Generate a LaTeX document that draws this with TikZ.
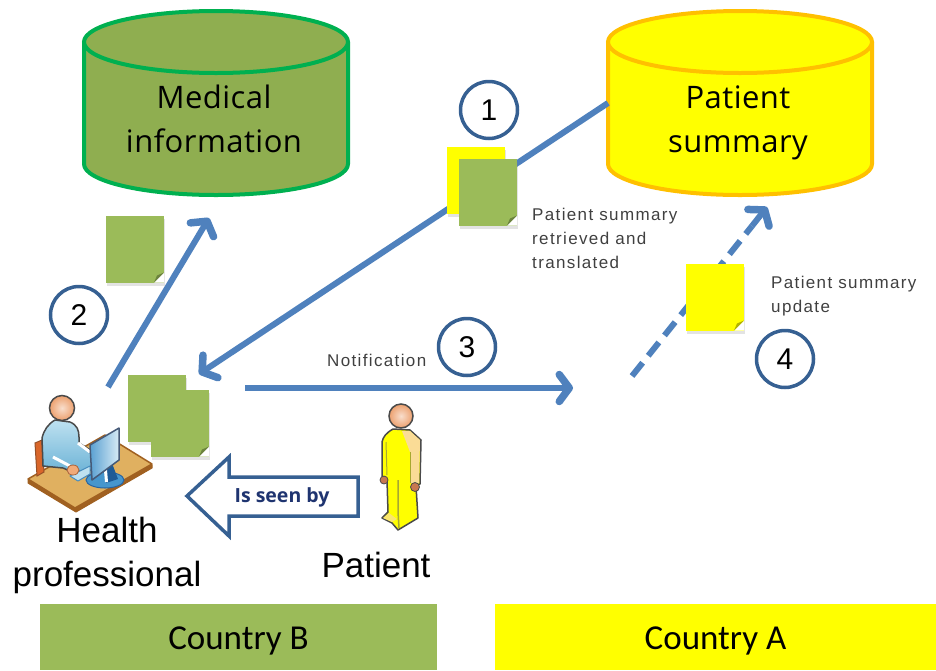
\documentclass[tikz,border=0pt]{standalone}
\usepackage{fontspec}
\setmainfont{Liberation Sans}
\newfontfamily\dbfont[LetterSpace=1.5]{Open Sans}
\newfontfamily\smfont[LetterSpace=8]{Liberation Sans}
\newfontfamily\calfont{Carlito}
\newfontfamily\boldfont{Open Sans}
\usetikzlibrary{arrows.meta,shadows}
\definecolor{sunny}{HTML}{FFFF00}
\definecolor{notegreen}{HTML}{9BBB59}
\definecolor{dbgreen}{HTML}{8FAE50}
\definecolor{dbedge}{HTML}{00B050}
\definecolor{amber}{HTML}{FFC000}
\definecolor{flow}{HTML}{4F81BD}
\definecolor{ring}{HTML}{366092}
\definecolor{navy}{HTML}{1F3470}
\definecolor{smallgray}{HTML}{404040}
\definecolor{skinedge}{HTML}{4A4A4A}
\definecolor{skin}{HTML}{ECA06E}
\definecolor{desktop}{HTML}{E0B060}
\definecolor{deskedge}{HTML}{A06020}
\definecolor{chair}{HTML}{D9662A}
\definecolor{chairedge}{HTML}{965028}
\definecolor{shirtlight}{HTML}{BEE1F0}
\definecolor{shirtdark}{HTML}{6EB4D7}
\definecolor{keyedge}{HTML}{468CBE}
\definecolor{handfill}{HTML}{F0AA78}
\definecolor{handedge}{HTML}{AA643C}
\definecolor{basefill}{HTML}{4696CD}
\definecolor{baseedge}{HTML}{2864A0}
\definecolor{standfill}{HTML}{1E5A96}
\definecolor{screenleft}{HTML}{5AA0D2}
\definecolor{screenright}{HTML}{D7EBF5}
\definecolor{screenedge}{HTML}{465A78}
\definecolor{sash}{HTML}{FADC96}
\definecolor{legline}{HTML}{A8A830}
\definecolor{footlight}{HTML}{FAE66E}
\definecolor{palm}{HTML}{C87850}
\tikzset{
  notebox/.style={rectangle,inner sep=0pt,minimum width=58pt,minimum height=67pt,fill=#1,
    drop shadow={shadow xshift=1pt,shadow yshift=-3pt,opacity=.22},
    path picture={
      \fill[white] ([xshift=-10pt]path picture bounding box.south east) -- ([yshift=10pt]path picture bounding box.south east) -- (path picture bounding box.south east) -- cycle;
      \fill[#1!70!black] ([xshift=-10pt]path picture bounding box.south east) -- ([yshift=10pt]path picture bounding box.south east) -- ([xshift=-7pt,yshift=7pt]path picture bounding box.south east) -- cycle;
    }},
  flowline/.style={draw=flow,line width=6pt},
  flowtip/.style={draw=flow,line width=6pt,-{Straight Barb[length=10pt,width=27pt,line width=7.5pt,round]}},
  numring/.style={circle,draw=ring,line width=3.5pt,fill=white,minimum size=57pt,inner sep=0pt,font=\fontsize{30}{30}\selectfont},
  dblabel/.style={align=center,inner sep=0pt,font=\dbfont\fontsize{31}{44}\selectfont},
  biglabel/.style={align=center,inner sep=0pt,font=\fontsize{35}{44}\selectfont},
  smalllabel/.style={align=left,inner sep=0pt,text=smallgray,font=\smfont\fontsize{17}{24}\selectfont},
  countrybar/.style={rectangle,inner sep=0pt,minimum height=66pt,font=\calfont\fontsize{35}{35}\selectfont},
  skinball/.style={shade,inner color=skin!35!white,outer color=skin,draw=skinedge,line width=1.5pt},
}
\newcommand{\dbshape}[4]{% xshift, fill, edge
  \begin{scope}[xshift=#1pt]
    \path[fill=#2,draw=#3,line width=#4,line join=round]
      (84,42) -- (84,164) .. controls (84,181) and (143,195) .. (216,195)
      .. controls (289,195) and (348,181) .. (348,164) -- (348,42) -- cycle;
    \path[fill=#2,draw=#3,line width=#4] (216,42) ellipse [x radius=132,y radius=31];
  \end{scope}}
\newcommand{\barlabel}[1]{\smash{\raisebox{-12pt}{#1}}}
\begin{document}
\begin{tikzpicture}[x=1pt,y=-1pt]
\useasboundingbox (0,0) rectangle (936,670);
% databases
\dbshape{0}{dbgreen}{dbedge}{4pt}
\dbshape{524}{sunny}{amber}{4pt}
\node[dblabel] (meddb) at (214,118.5) {Medical\\information};
\node[dblabel] (sumdb) at (738,122.5) {Patient\\summary};
% connector end points
\coordinate (sumport) at (608,103);
\coordinate (docstip) at (199,374);
\coordinate (hpout) at (108,387);
\coordinate (medport) at (209,218);
\coordinate (notifstart) at (245,388);
\coordinate (notifend) at (573,388);
\coordinate (updstart) at (632,376);
\coordinate (updlast) at (752,226);
\coordinate (sumin) at (767,207);
\draw[flowtip] (sumport) -- (docstip);
\draw[flowtip] (hpout) -- (medport);
\draw[flowtip] (notifstart) -- (notifend);
\draw[flowline,dash pattern=on 17pt off 9pt] (updstart) -- (updlast);
\draw[flowtip] (updlast) -- (sumin);
% notes
\node[notebox=notegreen] (note2) at (135,249) {};
\node[notebox=sunny] (note1y) at (476,180) {};
\node[notebox=notegreen] (note1g) at (488,192) {};
\node[notebox=sunny] (note4) at (715,297) {};
\node[notebox=notegreen] (docA) at (157,408) {};
\node[notebox=notegreen] (docB) at (180,423) {};
% numbered rings
\node[numring] (n1) at (489,110) {1};
\node[numring] (n2) at (79,315) {2};
\node[numring] (n3) at (467,347) {3};
\node[numring] (n4) at (785,359) {4};
% small labels
\node[smalllabel,anchor=north west] (lab1) at (532,208) {Patient summary\\retrieved and\\translated};
\node[smalllabel,anchor=north west] (lab4) at (771,276) {Patient summary\\update};
\node[smalllabel,anchor=west] (labn) at (327,360) {Notification};
% health professional icon
\path[fill=deskedge,draw=deskedge,line width=1pt,line join=round]
  (28,480) -- (75,508) -- (152,465) -- (152,468) -- (76,512) -- (28,483) -- cycle;
\path[fill=desktop,draw=deskedge,line width=1.5pt,line join=round]
  (28,479) -- (105,435) -- (152,464) -- (75,508) -- cycle;
\path[fill=chair,draw=chairedge,line width=1pt]
  (35,443) -- (42,440) -- (44,472) -- (37,476) -- cycle;
\path[top color=shirtlight,bottom color=shirtdark,draw=skinedge,line width=1.5pt,line join=round]
  (42,438) .. controls (44,430) and (48,424) .. (55,420) -- (70,422)
  .. controls (77,425) and (79,430) .. (79,437) -- (79,443) -- (92,451) -- (92,470) -- (72,472) -- (63,468) -- (43,466) -- cycle;
\draw[white,line width=3pt] (53,457) -- (70,466);
\draw[white,line width=3pt] (78,443) -- (90,452);
\path[fill=shirtlight,draw=keyedge,line width=1pt,line join=round]
  (70,476) -- (90,466) -- (90,474) -- (78,481) -- cycle;
\path[fill=handfill,draw=handedge,line width=.8pt] (73,470) ellipse [x radius=6,y radius=5];
\path[fill=basefill,draw=baseedge,line width=1pt] (105,480) ellipse [x radius=19,y radius=8];
\path[fill=standfill] (105,458) -- (110,458) -- (118,479) -- (106,483) -- cycle;
\path[fill=white] (103,459) -- (106,458) -- (108,482) -- (105,482) -- cycle;
\path[left color=screenleft,right color=screenright,draw=screenedge,line width=1.5pt,line join=round]
  (90,445) -- (119,428) -- (119,460) -- (92,480) -- cycle;
\path[skinball] (62,408) circle [radius=12.5];
% patient icon
\path[fill=sunny,draw=skinedge,line width=1.5pt,line join=round]
  (382,442) .. controls (383,437) and (386,433) .. (393,429) -- (410,430)
  -- (421,440) -- (420,484) -- (416,486) -- (418,518) -- (398,530) -- (392,523) -- (382,518) -- (388,512) -- (387,480) -- (382,476) -- cycle;
\path[fill=sash]
  (402,431) -- (410,431) -- (420,440) -- (419,483) -- (411,483) -- (410,452) -- cycle;
\draw[legline,line width=1pt] (386,442) -- (387,475);
\draw[legline,line width=1pt] (410,452) -- (410,483);
\draw[legline,line width=1.5pt] (398,480) -- (398,512) -- (399,528);
\path[fill=footlight] (383,518) -- (389,513) -- (397,519) -- (392,522) -- cycle;
\path[fill=palm,draw=skinedge,line width=.8pt] (384,480) circle [radius=4];
\path[fill=palm,draw=skinedge,line width=.8pt] (415,487) circle [radius=4.5];
\path[skinball] (401,416) circle [radius=12];
% is seen by
\node[inner sep=0pt,text=navy,font=\boldfont\bfseries\fontsize{19.5}{20}\selectfont] (seen) at (282,497) {Is seen by};
\path[draw=ring,line width=3.5pt,miter limit=10]
  (187,496) -- (229,457) -- (229,477) -- (358,477) -- (358,516) -- (229,516) -- (229,536) -- cycle;
% big labels
\node[biglabel] (hp) at (107,555.5) {Health\\professional};
\node[biglabel] (pat) at (376,565) {Patient};
% country bars
\node[countrybar,fill=notegreen,minimum width=397pt] (cb) at (238.5,637) {\barlabel{Country B}};
\node[countrybar,fill=sunny,minimum width=441pt] (ca) at (715.5,637) {\barlabel{Country A}};
\end{tikzpicture}
\end{document}
